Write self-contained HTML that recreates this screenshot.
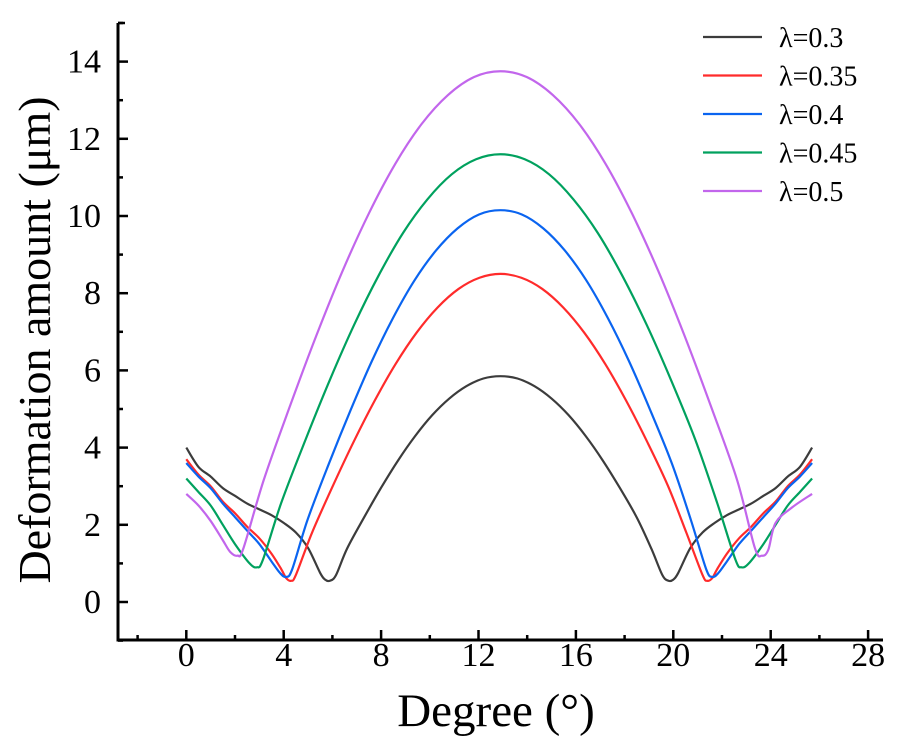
<!DOCTYPE html>
<html><head><meta charset="utf-8"><style>
body{margin:0;background:#fff;}
svg{display:block;font-family:"Liberation Serif",serif;}
</style></head><body>
<svg id="chart" width="902" height="748"></svg>
<script>
const xTicks=[0,4,8,12,16,20,24,28];
const yTicks=[0,2,4,6,8,10,12,14];
const seriesNames=["λ=0.3","λ=0.35","λ=0.4","λ=0.45","λ=0.5"];
const seriesColors=["#3c3c3c","#ff2b2b","#0a64f0","#00a15e","#c266ec"];
const x03=[0,0.5,1,1.5,2,2.5,3,3.5,4,4.5,5,5.5,5.7,5.9,6.15,6.6,7.3,8,8.7,9.4,10.1,10.8,11.5,12.2,12.9,13.6,14.3,15,15.7,16.4,17.1,17.8,18.5,19.1,19.55,19.8,20.0,20.2,20.7,21.2,21.7,22.2,22.7,23.2,23.7,24.2,24.7,25.2,25.7];
const y03=[4.0,3.5,3.25,2.95,2.75,2.55,2.4,2.25,2.05,1.8,1.4,0.75,0.58,0.55,0.7,1.38,2.19,2.96,3.67,4.3,4.84,5.27,5.59,5.79,5.85,5.79,5.59,5.27,4.84,4.3,3.67,2.96,2.19,1.38,0.7,0.55,0.58,0.75,1.4,1.8,2.05,2.25,2.4,2.55,2.75,2.95,3.25,3.5,4.0];
const x035=[0,0.5,1,1.5,2,2.5,3,3.5,3.9,4.1,4.3,4.5,5.16,6.02,6.88,7.74,8.6,9.46,10.32,11.18,12.04,12.9,13.76,14.62,15.48,16.34,17.2,18.06,18.92,19.78,20.54,21.2,21.4,21.6,21.8,22.2,22.7,23.2,23.7,24.2,24.7,25.2,25.7];
const y035=[3.7,3.3,3.0,2.6,2.3,1.95,1.65,1.25,0.85,0.62,0.55,0.7,1.79,3.01,4.16,5.22,6.17,6.98,7.63,8.11,8.4,8.5,8.4,8.11,7.63,6.98,6.17,5.22,4.16,3.01,1.79,0.7,0.55,0.62,0.85,1.25,1.65,1.95,2.3,2.6,3.0,3.3,3.7];
const x04=[0,0.5,1,1.5,2,2.5,3,3.5,3.85,4.1,4.35,4.98,5.86,6.74,7.62,8.5,9.38,10.26,11.14,12.02,12.9,13.78,14.66,15.54,16.42,17.3,18.18,19.06,19.94,20.72,21.35,21.6,21.85,22.2,22.7,23.2,23.7,24.2,24.7,25.2,25.7];
const y04=[3.6,3.25,2.95,2.55,2.2,1.85,1.5,1.05,0.75,0.65,0.85,2.13,3.59,4.96,6.24,7.37,8.34,9.11,9.68,10.04,10.15,10.04,9.68,9.11,8.34,7.37,6.24,4.96,3.59,2.13,0.85,0.65,0.75,1.05,1.5,1.85,2.2,2.55,2.95,3.25,3.6];
const x045=[0,0.5,1,1.5,2,2.6,2.9,3.15,3.9,4.9,5.9,6.9,7.9,8.9,9.9,10.9,11.9,12.9,13.9,14.9,15.9,16.9,17.9,18.9,19.9,20.9,21.8,22.55,22.8,23.1,23.7,24.2,24.7,25.2,25.7];
const y045=[3.2,2.85,2.5,2.0,1.5,1.0,0.9,1.1,2.57,4.21,5.76,7.19,8.46,9.56,10.43,11.08,11.47,11.6,11.47,11.08,10.43,9.56,8.46,7.19,5.76,4.21,2.57,1.1,0.9,1.0,1.5,2.0,2.5,2.85,3.2];
const x05=[0,0.5,1,1.5,1.8,2.1,2.35,3.18,4.26,5.34,6.42,7.5,8.58,9.66,10.74,11.82,12.9,13.98,15.06,16.14,17.22,18.3,19.38,20.46,21.54,22.62,23.35,23.64,23.9,24.2,24.9,25.7];
const y05=[2.8,2.5,2.1,1.6,1.3,1.2,1.4,3.16,5.08,6.9,8.58,10.07,11.35,12.38,13.13,13.6,13.75,13.6,13.13,12.38,11.35,10.07,8.58,6.9,5.08,3.16,1.4,1.2,1.35,2.05,2.46,2.8];
const seriesX=[x03,x035,x04,x045,x05];
const seriesY=[y03,y035,y04,y045,y05];

const NS="http://www.w3.org/2000/svg";
const svg=document.getElementById('chart');
const L=118,R=883,T=23,B=640;
const X0=186.3,XS=24.35,Y0=602,YS=38.6;
const sx=v=>X0+v*XS, sy=v=>Y0-v*YS;
function mk(tag,attrs,parent){const e=document.createElementNS(NS,tag);for(const k in attrs)e.setAttribute(k,attrs[k]);(parent||svg).appendChild(e);return e;}

seriesX.forEach((xs,i)=>{
  const ys=seriesY[i];
  const p=xs.map((x,j)=>[sx(x),sy(ys[j])]);
  let d="M"+p[0][0]+","+p[0][1];
  for(let j=0;j<p.length-1;j++){
    const p0=p[Math.max(0,j-1)],p1=p[j],p2=p[j+1],p3=p[Math.min(p.length-1,j+2)];
    const c1=[p1[0]+(p2[0]-p0[0])/6,p1[1]+(p2[1]-p0[1])/6];
    const c2=[p2[0]-(p3[0]-p1[0])/6,p2[1]-(p3[1]-p1[1])/6];
    d+=` C${c1[0]},${c1[1]} ${c2[0]},${c2[1]} ${p2[0]},${p2[1]}`;
  }
  const path=mk('path',{d:d,fill:'none',stroke:seriesColors[i],'stroke-width':2.2});
  
  
});

const ax=mk('path',{d:`M${L},${T} L${L},${B} L${R},${B}`,fill:'none',stroke:'#000','stroke-width':3});


mk('line',{x1:L,y1:T,x2:L+7,y2:T,stroke:'#000','stroke-width':2.5});
for(let v=-2;v<=28;v+=2){
  const major=v%4===0;
  mk('line',{x1:sx(v),y1:B,x2:sx(v),y2:B-(major?10:5),stroke:'#000','stroke-width':2.5});
}
for(let v=-1;v<=15;v+=1){
  const major=v%2===0;
  if(sy(v)<T)continue;
  mk('line',{x1:L,y1:sy(v),x2:L+(major?10:5),y2:sy(v),stroke:'#000','stroke-width':2.5});
}
xTicks.forEach(v=>{
  const t=mk('text',{x:sx(v),y:666,'text-anchor':'middle','font-size':34});
  t.textContent=v;
  
  
});
yTicks.forEach(v=>{
  const t=mk('text',{x:101,y:sy(v)+11,'text-anchor':'end','font-size':34});
  t.textContent=v;
  
  
});
const xt=mk('text',{x:496,y:726,'text-anchor':'middle','font-size':47});
xt.textContent="Degree (°)";


const yt=mk('text',{x:0,y:0,'text-anchor':'middle','font-size':46,transform:'translate(50,340) rotate(-90)'});
yt.textContent="Deformation amount (μm)";



seriesNames.forEach((n,i)=>{
  const y=37+i*38.5;
  const g=mk('g',{});
  
  
  mk('line',{x1:703,y1:y,x2:762,y2:y,stroke:seriesColors[i],'stroke-width':2.2},g);
  const t=mk('text',{x:779,y:y+10,'font-size':28},g);
  t.textContent=n;
});
</script>
</body></html>
